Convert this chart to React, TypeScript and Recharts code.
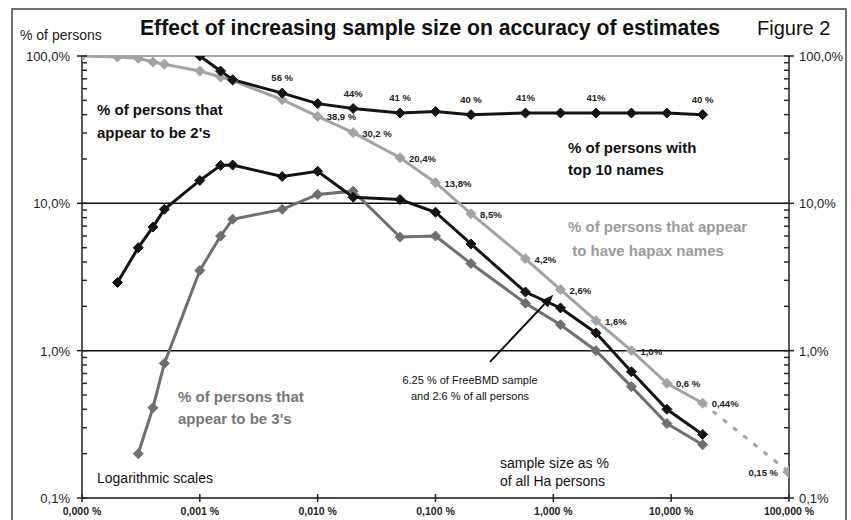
import React from "react";
import {
  ComposedChart,
  Line,
  XAxis,
  YAxis,
  ReferenceLine,
  LabelList,
} from "recharts";

const FONT = "'Liberation Sans', Arial, sans-serif";
const BLACK = "#141414";
const LIGHT = "#a3a3a3";
const MID = "#6f6f6f";

// x = sample size as % of all Ha persons, y = % of persons
const top10X = [0.001, 0.0015, 0.0019, 0.005, 0.01, 0.02, 0.05, 0.1, 0.2, 0.58, 1.15, 2.3, 4.6, 9.2, 18.5];
const top10Y = [100, 79, 69, 56, 47.5, 44, 41, 42, 40, 41, 41, 41, 41, 41, 40];
const top10Labels = ["", "", "", "56 %", "", "44%", "41 %", "", "40 %", "41%", "", "41%", "", "", "40 %"];

const hapaxX = [0.0001, 0.0002, 0.0003, 0.0004, 0.0005, 0.001, 0.0015, 0.0019, 0.005, 0.01, 0.02, 0.05, 0.1, 0.2, 0.58, 1.15, 2.3, 4.6, 9.2, 18.5];
const hapaxY = [100, 98.5, 96.5, 91, 88, 79, 72, 68, 50.5, 38.9, 30.2, 20.4, 13.8, 8.5, 4.2, 2.6, 1.6, 1.0, 0.6, 0.44];
const hapaxLabels = ["", "", "", "", "", "", "", "", "", "38,9 %", "30,2 %", "20,4%", "13,8%", "8,5%", "4,2%", "2,6%", "1,6%", "1,0%", "0,6 %", "0,44%"];

// dashed extrapolation of the hapax series to the whole population
const projX = [18.5, 100];
const projY = [0.44, 0.15];
const projLabels = ["", "0,15 %"];

const twosX = [0.0002, 0.0003, 0.0004, 0.0005, 0.001, 0.0015, 0.0019, 0.005, 0.01, 0.02, 0.05, 0.1, 0.2, 0.58, 1.15, 2.3, 4.6, 9.2, 18.5];
const twosY = [2.9, 5.0, 6.9, 9.1, 14.3, 18.1, 18.2, 15.2, 16.5, 11.0, 10.6, 8.7, 5.3, 2.5, 1.95, 1.32, 0.72, 0.4, 0.27];

const threesX = [0.0003, 0.0004, 0.0005, 0.001, 0.0015, 0.0019, 0.005, 0.01, 0.02, 0.05, 0.1, 0.2, 0.58, 1.15, 2.3, 4.6, 9.2, 18.5];
const threesY = [0.2, 0.41, 0.82, 3.5, 6.0, 7.8, 9.1, 11.5, 12.1, 5.9, 6.0, 3.9, 2.1, 1.5, 1.0, 0.57, 0.32, 0.23];

const xTicks = [0.0001, 0.001, 0.01, 0.1, 1, 10, 100];
const xTickLabels = ["0,000 %", "0,001 %", "0,010 %", "0,100 %", "1,000 %", "10,000 %", "100,000 %"];
const yMajor = [0.1, 1, 10, 100];
const yMajorLabels = ["0,1%", "1,0%", "10,0%", "100,0%"];
// log minor ticks 2..9 in every decade
const yTicks = [...yMajor.slice(0, 3).flatMap((d) => [1, 2, 3, 4, 5, 6, 7, 8, 9].map((m) => m * d)), 100];

const toRows = (xs: number[], ys: number[], labels?: string[]) =>
  xs.map((x, i) => ({ x, y: ys[i], label: labels ? labels[i] : "" }));

const top10 = toRows(top10X, top10Y, top10Labels);
const hapax = toRows(hapaxX, hapaxY, hapaxLabels);
const proj = toRows(projX, projY, projLabels);
const twos = toRows(twosX, twosY);
const threes = toRows(threesX, threesY);

const majorIndex = (v: number) => yMajor.findIndex((m) => Math.abs(m - v) < 1e-9);

const diamond = (color: string, r: number, only?: number) => (props: any) => {
  const { cx, cy, index } = props;
  if (cx == null || cy == null || (only != null && index !== only)) return <g key={index} />;
  return (
    <path
      key={index}
      d={`M${cx},${cy - r}L${cx + r},${cy}L${cx},${cy + r}L${cx - r},${cy}Z`}
      fill={color}
      stroke={color}
      strokeWidth={1}
    />
  );
};

const YTick = (side: "left" | "right") => (props: any) => {
  const { x, y, payload } = props;
  const mi = majorIndex(payload.value);
  const inward = side === "left" ? 1 : -1;
  if (mi < 0) {
    return (
      <g>
        <line x1={x} x2={x + inward * 5} y1={y} y2={y} stroke="#2a2a2a" strokeWidth={1.5} />
      </g>
    );
  }
  return (
    <g>
      <line x1={x - 5} x2={x + 5} y1={y} y2={y} stroke="#222" strokeWidth={1.5} />
      <text
        x={side === "left" ? x - 12 : x + 10}
        y={y + 5}
        textAnchor={side === "left" ? "end" : "start"}
        fontFamily={FONT}
        fontSize={13}
        fill="#222"
      >
        {yMajorLabels[mi]}
      </text>
    </g>
  );
};

const XTick = (props: any) => {
  const { x, y, index } = props;
  return (
    <g>
      <line x1={x} x2={x} y1={y - 4} y2={y + 4} stroke="#222" strokeWidth={1.5} />
      <text x={x} y={y + 17} textAnchor="middle" fontFamily={FONT} fontSize={10.5} fontWeight="bold" fill="#222">
        {xTickLabels[index] ?? ""}
      </text>
    </g>
  );
};

const Arrow = (props: any) => {
  const { x1, y1, x2, y2 } = props;
  const ang = Math.atan2(y2 - y1, x2 - x1);
  const len = 13;
  const w = 5;
  const bx = x2 - len * Math.cos(ang);
  const by = y2 - len * Math.sin(ang);
  const px = -Math.sin(ang) * w;
  const py = Math.cos(ang) * w;
  return (
    <g>
      <line x1={x1} y1={y1} x2={bx} y2={by} stroke="#111" strokeWidth={2} />
      <path d={`M${x2},${y2}L${bx + px},${by + py}L${bx - px},${by - py}Z`} fill="#111" />
    </g>
  );
};

const smallLabel = (anchor: "top" | "right" | "left") => (props: any) => {
  const { x, y, value } = props;
  if (!value) return null;
  const tx = anchor === "right" ? x + 9 : anchor === "left" ? x - 11 : x;
  const ty = anchor === "top" ? y - 12 : y + 4;
  return (
    <text
      x={tx}
      y={ty}
      textAnchor={anchor === "right" ? "start" : anchor === "left" ? "end" : "middle"}
      fontFamily={FONT}
      fontSize={9.5}
      fontWeight="bold"
      fill="#222"
    >
      {value}
    </text>
  );
};

const Note = ({ x, y, lines, color = "#111", size = 14, bold = false, anchor = "start", gap = 22 }: any) => (
  <text x={x} y={y} fontFamily={FONT} fontSize={size} fontWeight={bold ? "bold" : "normal"} fill={color} textAnchor={anchor}>
    {lines.map((l: string, i: number) => (
      <tspan key={i} x={x} dy={i === 0 ? 0 : gap}>
        {l}
      </tspan>
    ))}
  </text>
);

export default function App() {
  return (
    <div style={{ position: "absolute", left: 0, top: 0, width: 851, height: 520, background: "#fff", overflow: "hidden" }}>
      <div style={{ position: "absolute", left: 0, top: 0 }}>
        <ComposedChart width={851} height={520} margin={{ top: 56, right: 12, bottom: 4, left: 12 }}>
          <XAxis
            dataKey="x"
            type="number"
            scale="log"
            domain={[0.0001, 100]}
            ticks={xTicks}
            interval={0}
            allowDataOverflow
            height={18}
            tickSize={0}
            tickMargin={0}
            tick={XTick}
            axisLine={{ stroke: "#111", strokeWidth: 1.5 }}
          />
          <YAxis
            yAxisId="left"
            dataKey="y"
            type="number"
            scale="log"
            domain={[0.1, 100]}
            ticks={yTicks}
            interval={0}
            allowDataOverflow
            width={70}
            tickSize={0}
            tickMargin={0}
            tick={YTick("left")}
            axisLine={{ stroke: "#222", strokeWidth: 1.5 }}
          />
          <YAxis
            yAxisId="right"
            orientation="right"
            type="number"
            scale="log"
            domain={[0.1, 100]}
            ticks={yTicks}
            interval={0}
            allowDataOverflow
            width={50}
            tickSize={0}
            tickMargin={0}
            tick={YTick("right")}
            axisLine={{ stroke: "#222", strokeWidth: 1.5 }}
          />
          <ReferenceLine yAxisId="left" y={100} stroke="#8a8a8a" strokeWidth={1.5} />
          <ReferenceLine yAxisId="left" y={10} stroke="#111" strokeWidth={1.5} />
          <ReferenceLine yAxisId="left" y={1} stroke="#111" strokeWidth={1.5} />

          <Line
            yAxisId="left"
            data={proj}
            dataKey="y"
            stroke={LIGHT}
            strokeWidth={3}
            strokeDasharray="5 8"
            dot={diamond(LIGHT, 6, 1)}
            isAnimationActive={false}
          >
            <LabelList dataKey="label" content={smallLabel("left")} />
          </Line>
          <Line yAxisId="left" data={threes} dataKey="y" stroke={MID} strokeWidth={3} dot={diamond(MID, 5)} isAnimationActive={false} />
          <Line yAxisId="left" data={hapax} dataKey="y" stroke={LIGHT} strokeWidth={3} dot={diamond(LIGHT, 5)} isAnimationActive={false}>
            <LabelList dataKey="label" content={smallLabel("right")} />
          </Line>
          <Line yAxisId="left" data={twos} dataKey="y" stroke={BLACK} strokeWidth={3} dot={diamond(BLACK, 5)} isAnimationActive={false} />
          <Line yAxisId="left" data={top10} dataKey="y" stroke={BLACK} strokeWidth={3} dot={diamond(BLACK, 5)} isAnimationActive={false}>
            <LabelList dataKey="label" content={smallLabel("top")} />
          </Line>
          <ReferenceLine
            yAxisId="left"
            segment={[
              { x: 0.29, y: 0.84 },
              { x: 1.0, y: 2.4 },
            ]}
            shape={Arrow}
            ifOverflow="visible"
          />
        </ComposedChart>
      </div>
      <svg width={851} height={520} style={{ position: "absolute", left: 0, top: 0, pointerEvents: "none" }}>
        <path d="M12,530 L12,9 L846,9 L846,530" fill="none" stroke="#444" strokeWidth={1.5} />
        <text x={140} y={35} fontFamily={FONT} fontSize={22} fontWeight="bold" fill="#111" textLength={580} lengthAdjust="spacingAndGlyphs">
          Effect of increasing sample size on accuracy of estimates
        </text>
        <text x={757} y={35} fontFamily={FONT} fontSize={20} fill="#111">
          Figure 2
        </text>
        <text x={20} y={40} fontFamily={FONT} fontSize={14} fill="#222">
          % of persons
        </text>
        <Note x={97} y={115} lines={["% of persons that", "appear to be 2's"]} bold size={15} gap={23} />
        <Note x={568} y={153} lines={["% of persons with", "top 10 names"]} bold size={15} gap={22} />
        <Note x={568} y={232} lines={["% of persons that appear", " to have hapax names"]} bold size={15} gap={24} color="#9c9c9c" />
        <Note x={178} y={402} lines={["% of persons that", "appear to be 3's"]} bold size={15} gap={22} color="#787878" />
        <Note x={97} y={483} lines={["Logarithmic scales"]} size={14} />
        <Note x={500} y={468} lines={["sample size as %", "of all Ha persons"]} size={14} gap={18} />
        <Note x={470} y={384} lines={["6.25 % of FreeBMD sample", "and 2.6 % of all persons"]} size={11} gap={16} anchor="middle" />
      </svg>
    </div>
  );
}
